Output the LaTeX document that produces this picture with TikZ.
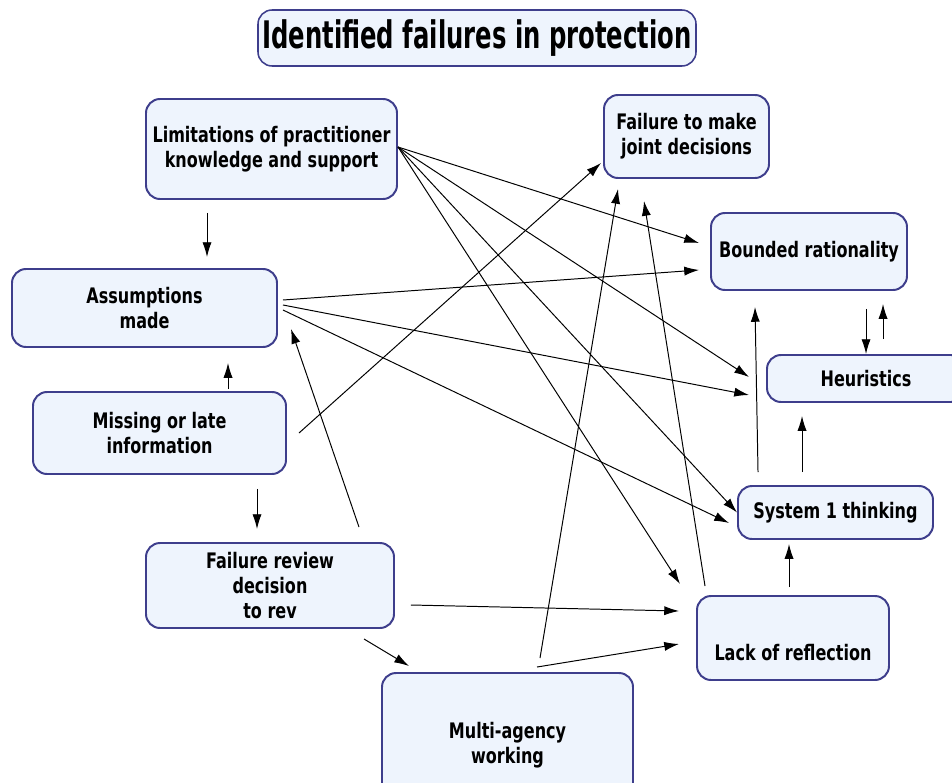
\documentclass[tikz,border=0pt]{standalone}
\usepackage{fontspec}
\setmainfont{DejaVu Sans}[FakeStretch=0.75]
\newfontfamily\titlefont{DejaVu Sans}[FakeStretch=0.64]
\usetikzlibrary{arrows.meta}
\definecolor{boxfill}{RGB}{238,244,253}
\definecolor{boxline}{RGB}{62,62,140}
\newdimen\pxu
\pxu=0.025cm
\begin{document}
\begin{tikzpicture}[x=0.025cm,y=-0.025cm,
  box/.style={draw=boxline,fill=boxfill,line width=1.4pt,rounded corners=10pt,
    align=center,inner sep=0pt,font=\fontsize{15.2}{17.7}\selectfont\bfseries},
  boxsize/.style 2 args={minimum width=#1\pxu,minimum height=#2\pxu},
  arr/.style={line width=0.7pt,-{Latex[length=10.5pt,width=6.5pt]}}]
\useasboundingbox (0,0) rectangle (952,782);

% boxes
\node[box,boxsize={438}{56},line width=1.1pt,font=\titlefont\fontsize{27}{30}\selectfont\bfseries] (title) at (477,38) {Identified failures in protection};
\node[box,boxsize={251}{100}] (lim) at (271.5,149) {Limitations of practitioner\\knowledge and support};
\node[box,boxsize={165}{83}] (joint) at (686.5,136.5) {Failure to make\\joint decisions};
\node[box,boxsize={196}{77}] (bounded) at (809,251.5) {Bounded rationality};
\node[box,boxsize={265}{78}] (assume) at (144.5,308) {Assumptions\\made};
\node[box,boxsize={198}{47}] (heur) at (866,378.5) {Heuristics};
\node[box,boxsize={253}{82}] (missing) at (159.5,433) {Missing or late\\information};
\node[box,boxsize={195}{53}] (sys1) at (835.5,512.5) {System 1 thinking};
\node[box,boxsize={248}{85}] (review) at (270,585.5) {Failure review\\decision\\to rev};
\node[box,boxsize={192}{84}] (lack) at (793,638) {~\\[14pt]Lack of reflection};
\node[box,boxsize={251}{145}] (multi) at (507.5,745.5) {Multi-agency\\working};

% left column
\draw[arr] ([shift={(62,13)}]lim.south west) -- ([shift={(196,-11)}]assume.north west);
\draw[arr] ([shift={(196,-2)}]missing.north west) -- ([shift={(217,15)}]assume.south west);
\draw[arr] ([shift={(225,14)}]missing.south west) -- ([shift={(112,-13)}]review.north west);
\draw[arr] ([shift={(219,10)}]review.south west) -- ([shift={(28,-6)}]multi.north west);
\draw[arr] ([shift={(-36,-15)}]review.north east) -- ([shift={(13,-19)}]assume.south east);

% across the middle
\draw[arr] ([shift={(16,19.5)}]review.east) -- ([shift={(-17,-27)}]lack.west);
\draw[arr] ([shift={(29.5,-5)}]multi.north) -- ([shift={(-17,6)}]lack.west);
\draw[arr] ([shift={(32.5,-14)}]multi.north) -- ([shift={(-68.5,10)}]joint.south);
\draw[arr] ([shift={(9,-9)}]lack.north west) -- ([shift={(-42.5,22)}]joint.south);
\draw[arr] ([shift={(12,0)}]missing.east) -- ([shift={(-2,26.5)}]joint.west);
\draw[arr] ([shift={(0,-2)}]lim.east) -- ([shift={(-11,-8.5)}]bounded.west);
\draw[arr] ([shift={(5,-8)}]assume.east) -- ([shift={(-11,18.5)}]bounded.west);
\draw[arr] ([shift={(0,-2)}]lim.east) -- ([shift={(-17,-1.5)}]heur.west);
\draw[arr] ([shift={(5,-3)}]assume.east) -- ([shift={(-17,16.5)}]heur.west);
\draw[arr] ([shift={(0,-2)}]lim.east) -- (sys1.west);
\draw[arr] ([shift={(5,2)}]assume.east) -- ([shift={(-8,10.5)}]sys1.west);
\draw[arr] ([shift={(0,-2)}]lim.east) -- ([shift={(-16,-11)}]lack.north west);

% right column
\draw[arr] ([shift={(21,-13)}]sys1.north west) -- ([shift={(45,16)}]bounded.south west);
\draw[arr] ([shift={(65,-13)}]sys1.north west) -- ([shift={(36,13)}]heur.south west);
\draw[arr] ([shift={(156,18)}]bounded.south west) -- ([shift={(100,0)}]heur.north west);
\draw[arr] ([shift={(117,-15)}]heur.north west) -- ([shift={(173,13)}]bounded.south west);
\draw[arr] ([shift={(93,-8)}]lack.north west) -- ([shift={(52,4)}]sys1.south west);
\end{tikzpicture}
\end{document}
